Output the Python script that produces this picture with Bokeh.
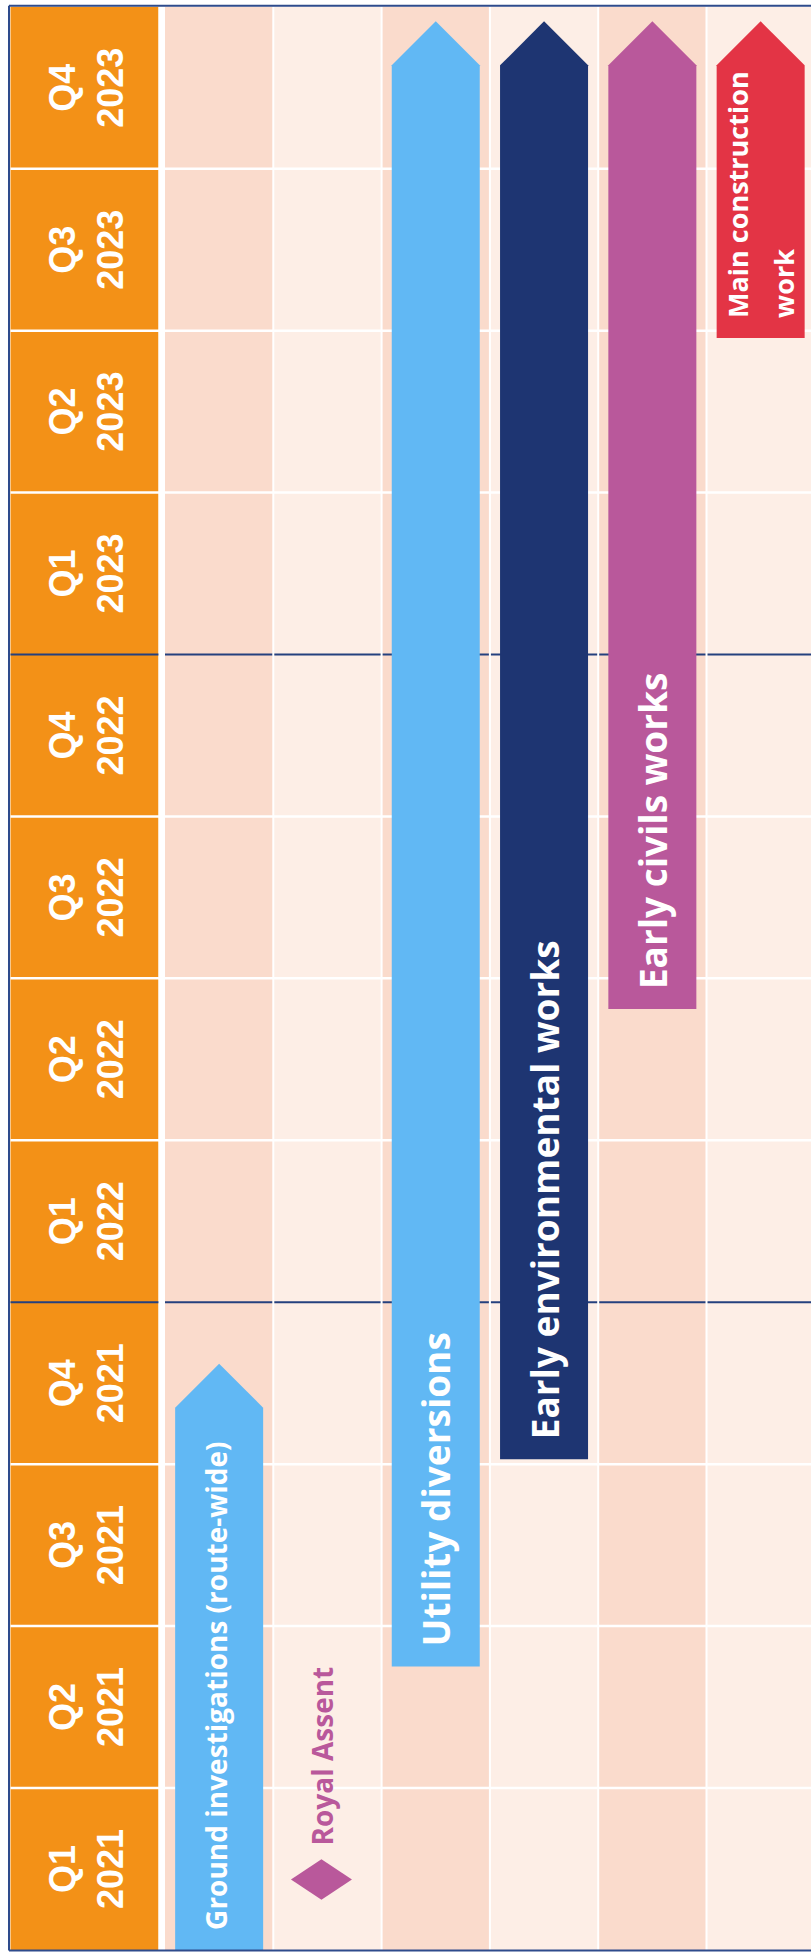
import numpy as np
from bokeh.plotting import figure
from bokeh.models import Range1d
from bokeh.embed import file_html
from bokeh.resources import INLINE
from bokeh.core.properties import value

# ---------------- data ----------------
quarters = ["Q1", "Q2", "Q3", "Q4"] * 3
years = ["2021"] * 4 + ["2022"] * 4 + ["2023"] * 4

tasks = ["Ground investigations (route-wide)", "Utility diversions",
         "Early environmental works", "Early civils works",
         "Main construction\nwork"]
task_lane = [0, 2, 3, 4, 5]
task_start = [0.0, 1.75, 3.03, 5.81, 9.955]     # quarters from start of Q1 2021
task_end = [3.62, 11.91, 11.91, 11.91, 11.91]   # arrow tip

milestone = "Royal Assent"
milestone_lane = 1
milestone_pos = 0.435

# ---------------- styles ----------------
task_colors = ["#61B8F4", "#61B8F4", "#1E3572", "#B9589B", "#E33445"]
task_font_sizes = ["28px", "37px", "37px", "37px", "27px"]
task_text_dx = [-3, 0, 0, 0, 0]
ORANGE = "#F39117"
LANE_DARK = "#FADBCC"
LANE_LIGHT = "#FDEEE6"
NAVY_LINE = "#24407E"
BORDER = "#2E4B8C"
MILESTONE_COLOR = "#B9589B"

W, H = 811, 1957
NQ = len(quarters)
TOP_PX, BOT_PX = 6.3, 7.6
PXQ = (H - TOP_PX - BOT_PX) / NQ
HEAD_X0, HEAD_X1 = 10, 158
LANE_X0, LANE_W, N_LANES = 164.5, 108.3, 6
BAR_W = 88
HEAD_Q = 44 / PXQ
PAD_Q = 20 / PXQ

p = figure(width=W, height=H, output_backend="svg", toolbar_location=None,
           x_range=Range1d(0, W),
           y_range=Range1d(-BOT_PX / PXQ, NQ + TOP_PX / PXQ),
           x_axis_type=None, y_axis_type=None, min_border=0,
           background_fill_color="white", border_fill_color="white")
p.grid.visible = False
p.outline_line_color = None

# header column
p.quad(left=HEAD_X0, right=HEAD_X1, bottom=0, top=NQ, fill_color=ORANGE, line_color=None)

# lanes
lane_left = [LANE_X0 + i * LANE_W for i in range(N_LANES)]
p.quad(left=lane_left, right=[l + LANE_W for l in lane_left], bottom=0, top=NQ,
       fill_color=[LANE_DARK if i % 2 == 0 else LANE_LIGHT for i in range(N_LANES)],
       line_color=None)

# row lines
white_rows = [k for k in range(1, NQ) if k % 4 != 0]
year_rows = [k for k in range(1, NQ) if k % 4 == 0]
p.segment(x0=HEAD_X0, x1=W, y0=white_rows, y1=white_rows, line_color="white", line_width=2.5)
p.segment(x0=HEAD_X0, x1=W, y0=year_rows, y1=year_rows, line_color=NAVY_LINE, line_width=2)

# vertical separators
p.quad(left=HEAD_X1, right=LANE_X0, bottom=0, top=NQ, fill_color="white", line_color=None)
seps = lane_left[1:]
p.segment(x0=seps, x1=seps, y0=0, y1=NQ, line_color="white", line_width=2)

# task arrows
xs, ys = [], []
for lane, s, e in zip(task_lane, task_start, task_end):
    cx = LANE_X0 + (lane + 0.5) * LANE_W
    l, r = cx - BAR_W / 2, cx + BAR_W / 2
    sh = e - HEAD_Q
    xs.append([l, r, r, cx, l])
    ys.append([s, s, sh, e, sh])
p.patches(xs=xs, ys=ys, fill_color=task_colors, line_color=None)

for lane, s, label, fs, dx in zip(task_lane, task_start, tasks, task_font_sizes, task_text_dx):
    cx = LANE_X0 + (lane + 0.5) * LANE_W
    p.text(x=[cx + dx], y=[s + PAD_Q], text=[label], angle=np.pi / 2,
           text_align="left", text_baseline="middle", text_color="white",
           text_font=value("Open Sans"), text_font_style="bold",
           text_font_size=fs, text_line_height=1.25)

# milestone
mx = LANE_X0 + (milestone_lane + 0.5) * LANE_W
p.scatter(x=[mx - 6], y=[milestone_pos], marker="diamond", size=61, angle=np.pi / 2,
          fill_color=MILESTONE_COLOR, line_color=None)
p.text(x=[mx - 5], y=[milestone_pos + 0.21], text=[milestone], angle=np.pi / 2,
       text_align="left", text_baseline="middle", text_color=MILESTONE_COLOR,
       text_font=value("Open Sans"), text_font_style="bold", text_font_size="28px")

# quarter labels
qlabels = [f"{q}\n{y}" for q, y in zip(quarters, years)]
p.text(x=[(HEAD_X0 + HEAD_X1) / 2 + 2] * NQ, y=[k + 0.5 for k in range(NQ)], text=qlabels,
       angle=np.pi / 2, text_align="center", text_baseline="middle", text_color="white",
       text_font=value("Liberation Sans"), text_font_style="bold",
       text_font_size="36px", text_line_height=1.15)

# border (left, top, bottom)
top_b = NQ + 1.0 / PXQ
bot_b = -0.6 / PXQ
p.segment(x0=[8.5, 8.5, 8.5], x1=[8.5, W, W], y0=[bot_b, top_b, bot_b], y1=[top_b, top_b, bot_b],
          line_color=BORDER, line_width=2)

open("out.html", "w").write(file_html(p, INLINE))
